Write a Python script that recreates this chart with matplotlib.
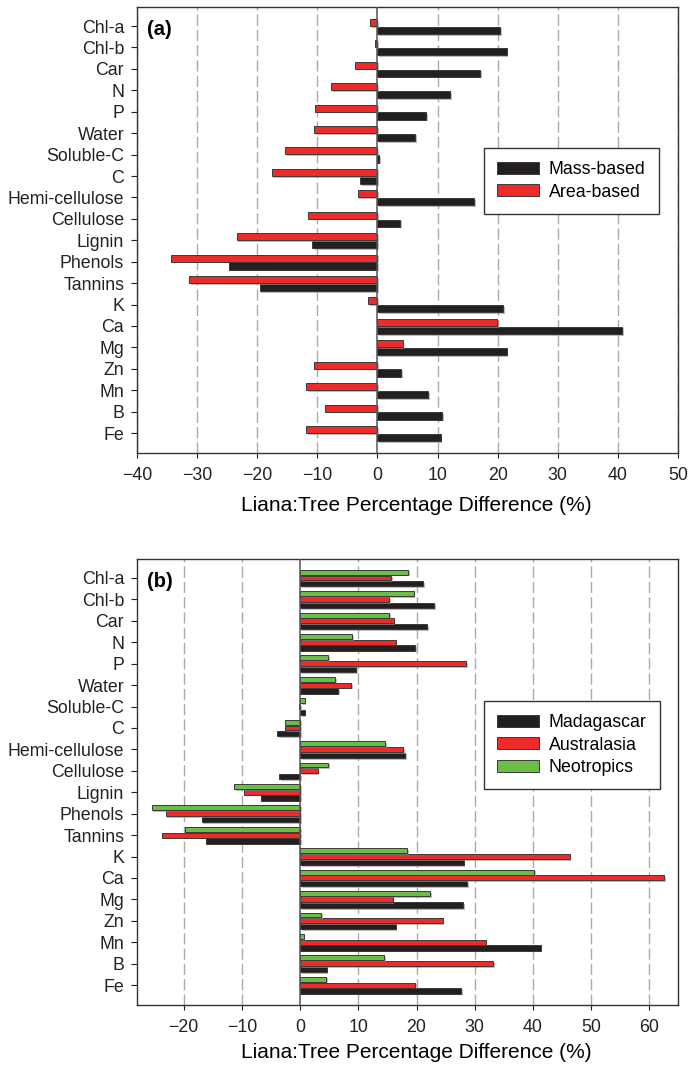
"""Liana vs tree leaf trait percentage differences, panels (a) and (b)."""

import matplotlib

matplotlib.use("Agg")
import matplotlib.patheffects as pe
import matplotlib.pyplot as plt
import numpy as np

TRAITS = [
    "Chl-a", "Chl-b", "Car", "N", "P", "Water", "Soluble-C", "C",
    "Hemi-cellulose", "Cellulose", "Lignin", "Phenols", "Tannins",
    "K", "Ca", "Mg", "Zn", "Mn", "B", "Fe",
]

# panel (a)
MASS_BASED = [20.4, 21.5, 17.1, 12.1, 8.1, 6.3, 0.3, -2.9, 16.1, 3.8,
              -10.8, -24.7, -19.6, 20.9, 40.7, 21.5, 4.0, 8.4, 10.8, 10.5]
AREA_BASED = [-1.2, -0.4, -3.7, -7.7, -10.4, -10.5, -15.3, -17.6, -3.3, -11.6,
              -23.4, -34.4, -31.3, -1.5, 19.9, 4.2, -10.5, -11.9, -8.7, -11.9]

# panel (b)
MADAGASCAR = [21.2, 23.0, 21.8, 19.8, 9.6, 6.6, 0.8, -3.9, 18.1, -3.6,
              -6.7, -16.9, -16.1, 28.1, 28.7, 28.0, 16.4, 41.3, 4.6, 27.7]
AUSTRALASIA = [15.6, 15.3, 16.1, 16.4, 28.5, 8.8, -0.2, -2.6, 17.7, 3.0,
               -9.6, -23.1, -23.7, 46.3, 62.5, 15.9, 24.5, 31.9, 33.2, 19.8]
NEOTROPICS = [18.6, 19.5, 15.3, 8.9, 4.8, 6.0, 0.8, -2.5, 14.6, 4.8,
              -11.3, -25.5, -19.7, 18.4, 40.2, 22.4, 3.6, 0.6, 14.5, 4.5]

XTICKS_A = [-40, -30, -20, -10, 0, 10, 20, 30, 40, 50]
XTICKS_B = [-20, -10, 0, 10, 20, 30, 40, 50, 60]

BLACK = "#231f20"
RED = "#ee2a2a"
GREEN = "#6cbd45"
XLABEL = "Liana:Tree Percentage Difference (%)"

plt.rcParams.update(
    {
        "font.family": ["Liberation Sans", "DejaVu Sans"],
        "font.size": 12.8,
        "axes.linewidth": 1.0,
        "axes.edgecolor": "#333333",
        "xtick.major.size": 3.5,
        "ytick.major.size": 4.2,
        "xtick.major.pad": 6.5,
        "ytick.major.pad": 5,
        "xtick.color": "#222222",
        "ytick.color": "#222222",
    }
)

SHADOW = [pe.SimplePatchShadow(offset=(1.2, -1.2), shadow_rgbFace="#8f8f8f", alpha=0.6), pe.Normal()]


def draw_bars(ax, y, values, offset, height, color, label):
    bars = ax.barh(
        y + offset,
        values,
        height=height,
        color=color,
        edgecolor="#3a3a3a",
        linewidth=0.7,
        label=label,
        zorder=3,
    )
    for b in bars:
        b.set_path_effects(SHADOW)
    return bars


def style_axes(ax, xticks, xlim, tag, label_y):
    y = np.arange(len(TRAITS))
    ax.set_yticks(y)
    ax.set_yticklabels(TRAITS)
    ax.set_ylim(len(TRAITS) - 1 + 0.93, -0.886)
    ax.set_xlim(xlim)
    ax.set_xticks(xticks)
    for t in xticks:
        if t == 0:
            ax.axvline(t, color="#555555", linewidth=1.1, zorder=4)
        else:
            ax.axvline(t, color="#aaaaaa", linewidth=1.0, linestyle=(0, (8, 3)), zorder=1)
    ax.set_xlabel(XLABEL, fontsize=15, va="center")
    ax.xaxis.set_label_coords(0.516, label_y)
    ax.text(0.019, 0.9496, tag, transform=ax.transAxes, fontsize=14.5,
            fontweight="bold", va="center", ha="left")


def legend(ax, anchor):
    leg = ax.legend(
        loc="upper left",
        bbox_to_anchor=anchor,
        borderaxespad=0,
        fancybox=False,
        framealpha=1,
        edgecolor="#333333",
        fontsize=12.8,
        borderpad=0.75,
        labelspacing=0.3,
        handlelength=2.35,
        handleheight=0.65,
        handletextpad=0.55,
    )
    leg.get_frame().set_linewidth(1.0)
    for h in leg.legend_handles:
        h.set_path_effects([])
    return leg


fig = plt.figure(figsize=(6.89, 10.67), dpi=100)
ax_a = fig.add_axes([0.1988, 0.5754, 0.7852, 0.418])
ax_b = fig.add_axes([0.1988, 0.0581, 0.7852, 0.418])

y = np.arange(len(TRAITS))

draw_bars(ax_a, y, MASS_BASED, 0.20, 0.34, BLACK, "Mass-based")
draw_bars(ax_a, y, AREA_BASED, -0.17, 0.33, RED, "Area-based")
style_axes(ax_a, XTICKS_A, (-40, 50), "(a)", -0.1166)
legend(ax_a, (0.641, 0.684))

draw_bars(ax_b, y, MADAGASCAR, 0.27, 0.25, BLACK, "Madagascar")
draw_bars(ax_b, y, AUSTRALASIA, 0.0, 0.23, RED, "Australasia")
draw_bars(ax_b, y, NEOTROPICS, -0.27, 0.23, GREEN, "Neotropics")
style_axes(ax_b, XTICKS_B, (-28, 64.9), "(b)", -0.1076)
legend(ax_b, (0.641, 0.6816))

fig.savefig("out.png", dpi=100)
